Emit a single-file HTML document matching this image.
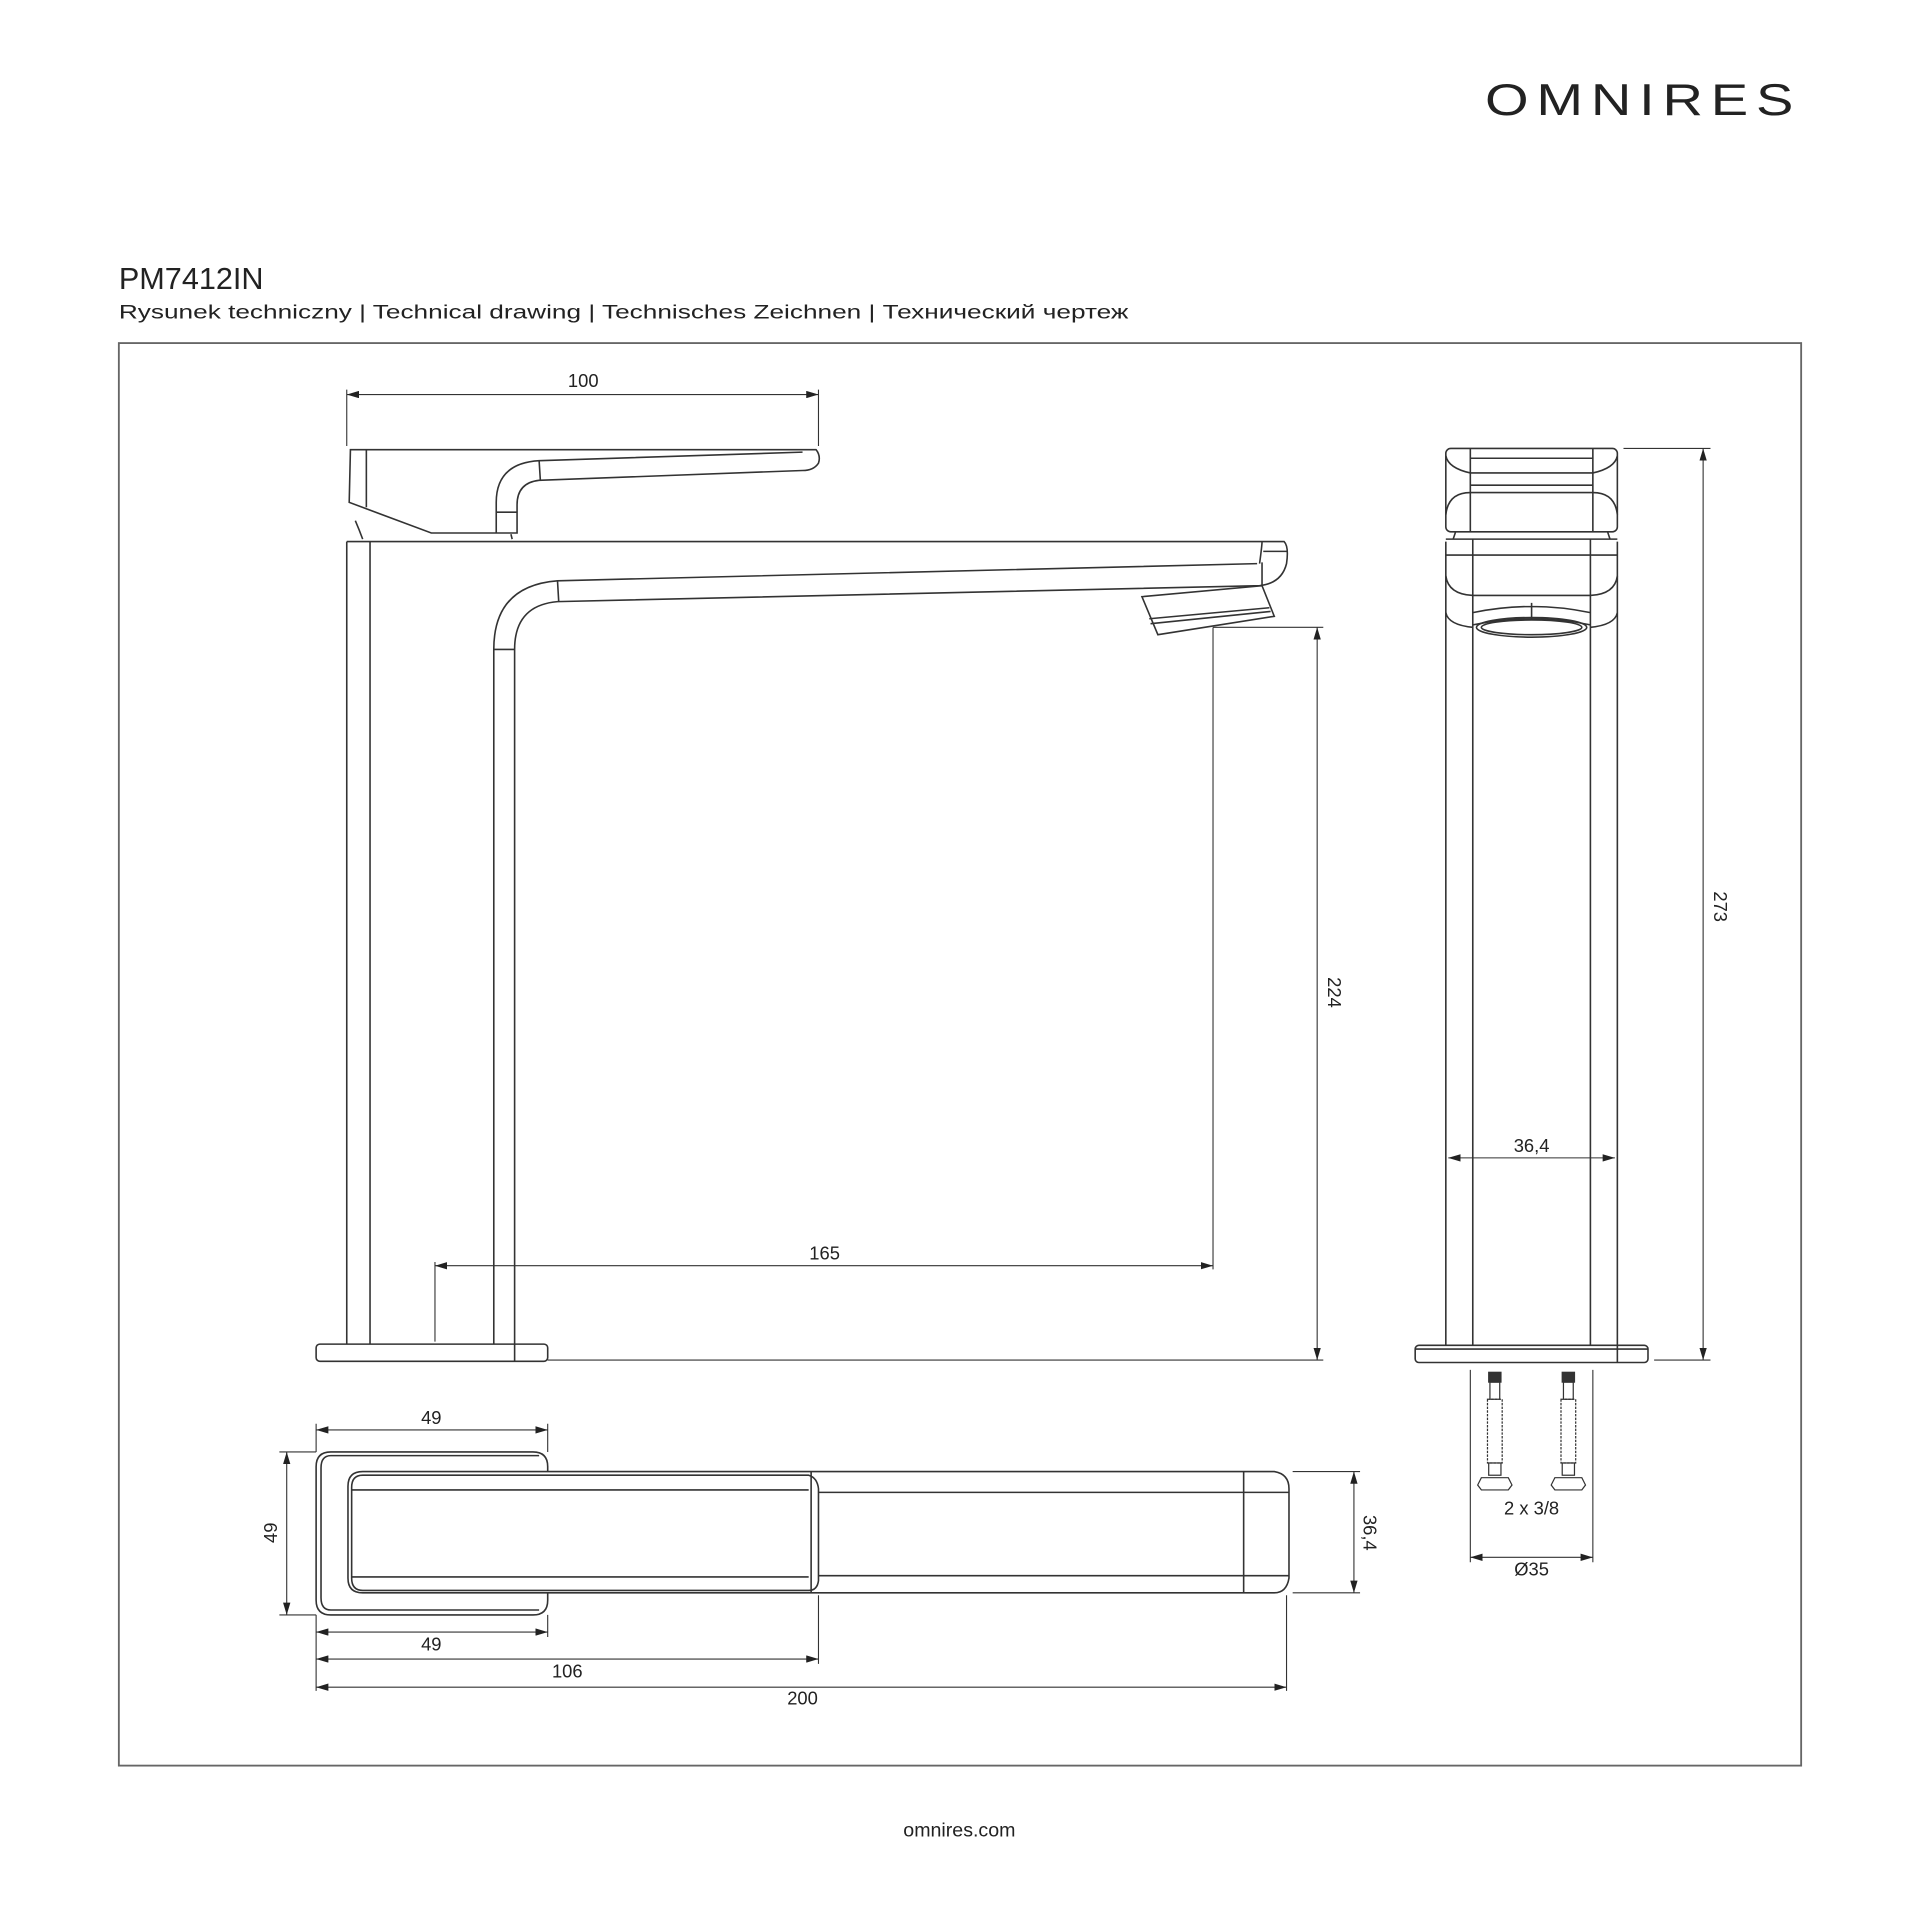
<!DOCTYPE html>
<html><head><meta charset="utf-8"><style>
html,body{margin:0;padding:0;background:#fff;}
svg{display:block;}
text{font-family:"Liberation Sans",sans-serif;fill:#222;}
</style></head><body>
<svg width="1920" height="1920" viewBox="0 0 1567 1567" xmlns="http://www.w3.org/2000/svg">
<defs>
<marker id="a" viewBox="0 0 10 6" refX="10" refY="3" markerWidth="10" markerHeight="6" orient="auto-start-reverse" markerUnits="userSpaceOnUse"><path d="M0,0L10,3L0,6z" fill="#222"/></marker>
</defs>
<text x="1470" y="94" text-anchor="end" font-size="36" letter-spacing="5" textLength="258" lengthAdjust="spacingAndGlyphs">OMNIRES</text>
<text x="97" y="236" font-size="25">PM7412IN</text>
<text x="97" y="260" font-size="16" textLength="824" lengthAdjust="spacingAndGlyphs">Rysunek techniczny | Technical drawing | Technisches Zeichnen | Технический чертеж</text>
<rect x="97" y="280" width="1373" height="1161" fill="none" stroke="#666" stroke-width="1.5"/>
<text x="783" y="1499" font-size="16" text-anchor="middle">omnires.com</text>

<g fill="none" stroke="#333" stroke-width="1.3">
<path d="M286,367 L666,367 Q670,372 668,378 Q664,384 655,384 L440,392 Q422,394 422,412 L422,435 L352,435 L285,410 Z"/>
<path d="M299,367 L299,414"/>
<path d="M405,435 L405,410 Q405,378 440,376 L655,369"/>
<path d="M440,376 L441,392"/>
<path d="M405,418 L422,418"/>
<path d="M290,425 Q293,432 296,440 M417,436 L418,440"/>
<path d="M283,442 L1048,442 Q1052,446 1050,460 Q1046,476 1028,478 L455,491 Q420,494 420,530 L420,1097"/>
<path d="M283,442 L283,1097 M302,442 L302,1097"/>
<path d="M1028,460 Q1030,445 1030,442 M1030,459 L1030,478"/>
<path d="M1026,460 L455,474 Q403,478 403,530 L403,1097"/>
<path d="M455,474 L456,491 M403,530 L420,530 M1031,450 L1050,450"/>
<path d="M932,487 L1030,478 L1040,503 L945,518 Z"/>
<path d="M938,505 L1036,496 M939,509 L1037,499"/>
<rect x="258" y="1097" width="189" height="14" rx="3"/>
<path d="M420,1097 L420,1111"/>
<rect x="1180" y="366" width="140" height="68" rx="4"/>
<path d="M1200,366 L1200,434 M1300,366 L1300,434"/>
<path d="M1180,372 Q1182,382 1200,386 L1300,386 Q1318,382 1320,372"/>
<path d="M1200,374 L1300,374 M1200,396 L1300,396"/>
<path d="M1180,420 Q1182,402 1200,402 L1300,402 Q1318,402 1320,420"/>
<path d="M1188,434 L1186,440 M1312,434 L1314,440"/>
<path d="M1180,440 L1320,440 M1180,442 L1180,1098 M1320,442 L1320,1098 M1202,440 L1202,1098 M1298,440 L1298,1098"/>
<path d="M1180,453 L1320,453"/>
<path d="M1180,470 Q1182,485 1202,486 L1298,486 Q1318,485 1320,470"/>
<path d="M1180,500 Q1182,510 1202,512 M1320,500 Q1318,510 1298,512"/>
<path d="M1202,500 Q1250,490 1298,500 M1202,510 Q1250,500 1298,510 M1250,492 L1250,505"/>
<ellipse cx="1250" cy="512" rx="45" ry="8"/>
<ellipse cx="1250" cy="512" rx="41" ry="6"/>
<rect x="1155" y="1098" width="190" height="14" rx="3"/>
<path d="M1320,1098 L1320,1112 M1155,1101 L1345,1101"/>
<g stroke-width="1">
<rect x="1215" y="1120" width="10" height="8" fill="#333"/>
<rect x="1216" y="1128" width="8" height="14"/>
<rect x="1214" y="1142" width="12" height="52" stroke-dasharray="2,1"/>
<rect x="1215" y="1194" width="10" height="10"/>
<path d="M1209,1206 L1231,1206 L1234,1212 L1231,1216 L1209,1216 L1206,1212 Z"/>
<rect x="1275" y="1120" width="10" height="8" fill="#333"/>
<rect x="1276" y="1128" width="8" height="14"/>
<rect x="1274" y="1142" width="12" height="52" stroke-dasharray="2,1"/>
<rect x="1275" y="1194" width="10" height="10"/>
<path d="M1269,1206 L1291,1206 L1294,1212 L1291,1216 L1269,1216 L1266,1212 Z"/>
</g>
<path d="M447,1201 L447,1197 Q447,1185 435,1185 L270,1185 Q258,1185 258,1197 L258,1306 Q258,1318 270,1318 L435,1318 Q447,1318 447,1306 L447,1300"/>
<path d="M440,1188 L270,1188 Q262,1188 262,1198 L262,1304 Q262,1314 270,1314 L440,1314"/>
<path d="M296,1201 L1040,1201 Q1052,1203 1052,1215 L1052,1288 Q1050,1300 1040,1300 L296,1300 Q284,1300 284,1288 L284,1213 Q284,1201 296,1201 Z"/>
<path d="M296,1204 L660,1204 Q667,1206 668,1215 L668,1290 Q667,1298 660,1298 L296,1298 Q287,1298 287,1288 L287,1214 Q287,1204 296,1204 Z"/>
<path d="M287,1216 L660,1216 M287,1287 L660,1287 M662,1201 L662,1300 M668,1218 L1052,1218 M668,1286 L1052,1286 M1015,1201 L1015,1300"/>
</g>

<g stroke="#333" stroke-width="0.9" fill="none">
<path d="M283,318 L283,364 M668,318 L668,364"/>
<path d="M283,322 L668,322" marker-start="url(#a)" marker-end="url(#a)"/>
<path d="M990,512 L1080,512 M447,1110 L1080,1110"/>
<path d="M1075,512 L1075,1110" marker-start="url(#a)" marker-end="url(#a)"/>
<path d="M355,1030 L355,1095 M990,512 L990,1036"/>
<path d="M355,1033 L990,1033" marker-start="url(#a)" marker-end="url(#a)"/>
<path d="M1325,366 L1396,366 M1350,1110 L1396,1110"/>
<path d="M1390,366 L1390,1110" marker-start="url(#a)" marker-end="url(#a)"/>
<path d="M1182,945 L1318,945" marker-start="url(#a)" marker-end="url(#a)"/>
<path d="M1200,1118 L1200,1275 M1300,1118 L1300,1275"/>
<path d="M1200,1271 L1300,1271" marker-start="url(#a)" marker-end="url(#a)"/>
<path d="M258,1162 L258,1185 M258,1318 L258,1380 M447,1162 L447,1185 M447,1318 L447,1336 M668,1302 L668,1358 M1050,1302 L1050,1380"/>
<path d="M258,1167 L447,1167" marker-start="url(#a)" marker-end="url(#a)"/>
<path d="M258,1332 L447,1332" marker-start="url(#a)" marker-end="url(#a)"/>
<path d="M258,1354 L668,1354" marker-start="url(#a)" marker-end="url(#a)"/>
<path d="M258,1377 L1050,1377" marker-start="url(#a)" marker-end="url(#a)"/>
<path d="M228,1185 L258,1185 M228,1318 L258,1318"/>
<path d="M234,1185 L234,1318" marker-start="url(#a)" marker-end="url(#a)"/>
<path d="M1055,1201 L1110,1201 M1055,1300 L1110,1300"/>
<path d="M1105,1201 L1105,1300" marker-start="url(#a)" marker-end="url(#a)"/>
</g>
<g font-size="15" text-anchor="middle">
<text x="476" y="316">100</text>
<text x="673" y="1028">165</text>
<text x="1250" y="940">36,4</text>
<text x="1250" y="1236">2 x 3/8</text>
<text x="1250" y="1286">Ø35</text>
<text x="352" y="1162">49</text>
<text x="352" y="1347">49</text>
<text x="463" y="1369">106</text>
<text x="655" y="1391">200</text>
<text transform="translate(1084,810) rotate(90)">224</text>
<text transform="translate(1399,740) rotate(90)">273</text>
<text transform="translate(1113,1251) rotate(90)">36,4</text>
<text transform="translate(226,1251) rotate(-90)">49</text>
</g>
</svg>
</body></html>
